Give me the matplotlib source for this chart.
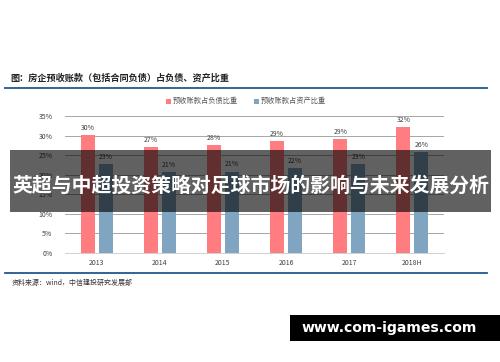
import matplotlib
matplotlib.use("Agg")
import matplotlib.pyplot as plt
from matplotlib.patches import Rectangle
import numpy as np

plt.rcParams['font.family'] = ['Noto Sans CJK SC', 'DejaVu Sans']

categories = ["2013", "2014", "2015", "2016", "2017", "2018H"]
debt_ratio = [30.2, 27.1, 27.5, 28.6, 29.0, 32.1]
asset_ratio = [22.8, 20.6, 20.8, 21.7, 22.7, 25.7]
debt_labels = ["30%", "27%", "28%", "29%", "29%", "32%"]
asset_labels = ["23%", "21%", "21%", "22%", "23%", "26%"]
yticks = [0, 5, 10, 15, 20, 25, 30, 35]
ytick_labels = ["0%", "5%", "10%", "15%", "20%", "25%", "30%", "35%"]
series_names = ["预收账款占负债比重", "预收账款占资产比重"]
title = "图：房企预收账款（包括合同负债）占负债、资产比重"
source = "资料来源：wind，中信建投研究发展部"
overlay = "英超与中超投资策略对足球市场的影响与未来发展分析"
watermark = "www.com-igames.com"

red = "#FF7C80"
blue = "#7FA5C0"
W, H = 500, 362
fig = plt.figure(figsize=(5, 3.62), dpi=100)
fig.patch.set_facecolor("white")

def fx(px):
    return px / W
def fy(py):
    return 1 - py / H

ax = fig.add_axes([fx(65), fy(253), fx(444) - fx(65), fy(116) - fy(253)])
x = np.arange(len(categories))
bw = 0.22
gap = 0.032
ax.bar(x - bw / 2 - gap, debt_ratio, bw, color=red, zorder=3)
ax.bar(x + bw / 2 + gap, asset_ratio, bw, color=blue, zorder=3)
for i in range(len(categories)):
    ax.text(x[i] - bw / 2 - gap, debt_ratio[i] + 0.8, debt_labels[i], ha="center", va="bottom",
            fontsize=5, color="#404040")
    ax.text(x[i] + bw / 2 + gap, asset_ratio[i] + 0.8, asset_labels[i], ha="center", va="bottom",
            fontsize=5, color="#404040")
ax.set_ylim(0, 35)
ax.set_xlim(-0.5, len(categories) - 0.5)
ax.set_yticks(yticks)
ax.set_yticklabels(ytick_labels, fontsize=5, color="#404040")
ax.set_xticks(x)
ax.set_xticklabels(categories, fontsize=5, color="#404040")
ax.tick_params(length=0, pad=4)
ax.tick_params(axis="y", pad=9)
ax.grid(axis="y", color="#A6A6A6", linewidth=0.7, zorder=0)
for s in ["top", "right", "left"]:
    ax.spines[s].set_visible(False)
ax.spines["bottom"].set_color("#D0D0D0")
ax.spines["bottom"].set_linewidth(0.7)

# title and rules
fig.text(fx(10), fy(78), title, fontsize=6.6, fontweight="bold", color="#222222", va="center", ha="left")
fig.add_artist(plt.Line2D([fx(5), fx(487)], [fy(88), fy(88)], color="#1F5A8A", linewidth=1.3))
fig.add_artist(plt.Line2D([fx(5), fx(487)], [fy(273), fy(273)], color="#1F5A8A", linewidth=1.3))
fig.text(fx(12), fy(283), source, fontsize=5, color="#333333", va="center", ha="left", style="italic")

# legend
fig.add_artist(Rectangle((fx(166), fy(103.5)), fx(4.5), fy(99) - fy(103.5), facecolor=red, lw=0,
                         transform=fig.transFigure))
fig.text(fx(173), fy(101), series_names[0], fontsize=5.2, color="#555555", va="center", ha="left")
fig.add_artist(Rectangle((fx(254), fy(103.5)), fx(4.5), fy(99) - fy(103.5), facecolor=blue, lw=0,
                         transform=fig.transFigure))
fig.text(fx(261), fy(101), series_names[1], fontsize=5.2, color="#555555", va="center", ha="left")

# overlay band
fig.add_artist(Rectangle((fx(10), fy(212)), fx(491) - fx(10), fy(150) - fy(212), facecolor="black", lw=0,
                         alpha=0.62, transform=fig.transFigure, zorder=10))
fig.text(fx(250.5), fy(185), overlay, fontsize=14.3, fontweight="bold", color="white", ha="center", va="center",
         zorder=11)

# watermark
fig.add_artist(Rectangle((fx(290), fy(341)), fx(500) - fx(290), fy(315) - fy(341), facecolor="black", lw=0,
                         transform=fig.transFigure, zorder=10))
fig.text(fx(389), fy(328), watermark, fontsize=10.1, fontweight="bold", color="white", ha="center", va="center",
         family=["DejaVu Sans"], zorder=11)

fig.savefig("out.png", dpi=100)
